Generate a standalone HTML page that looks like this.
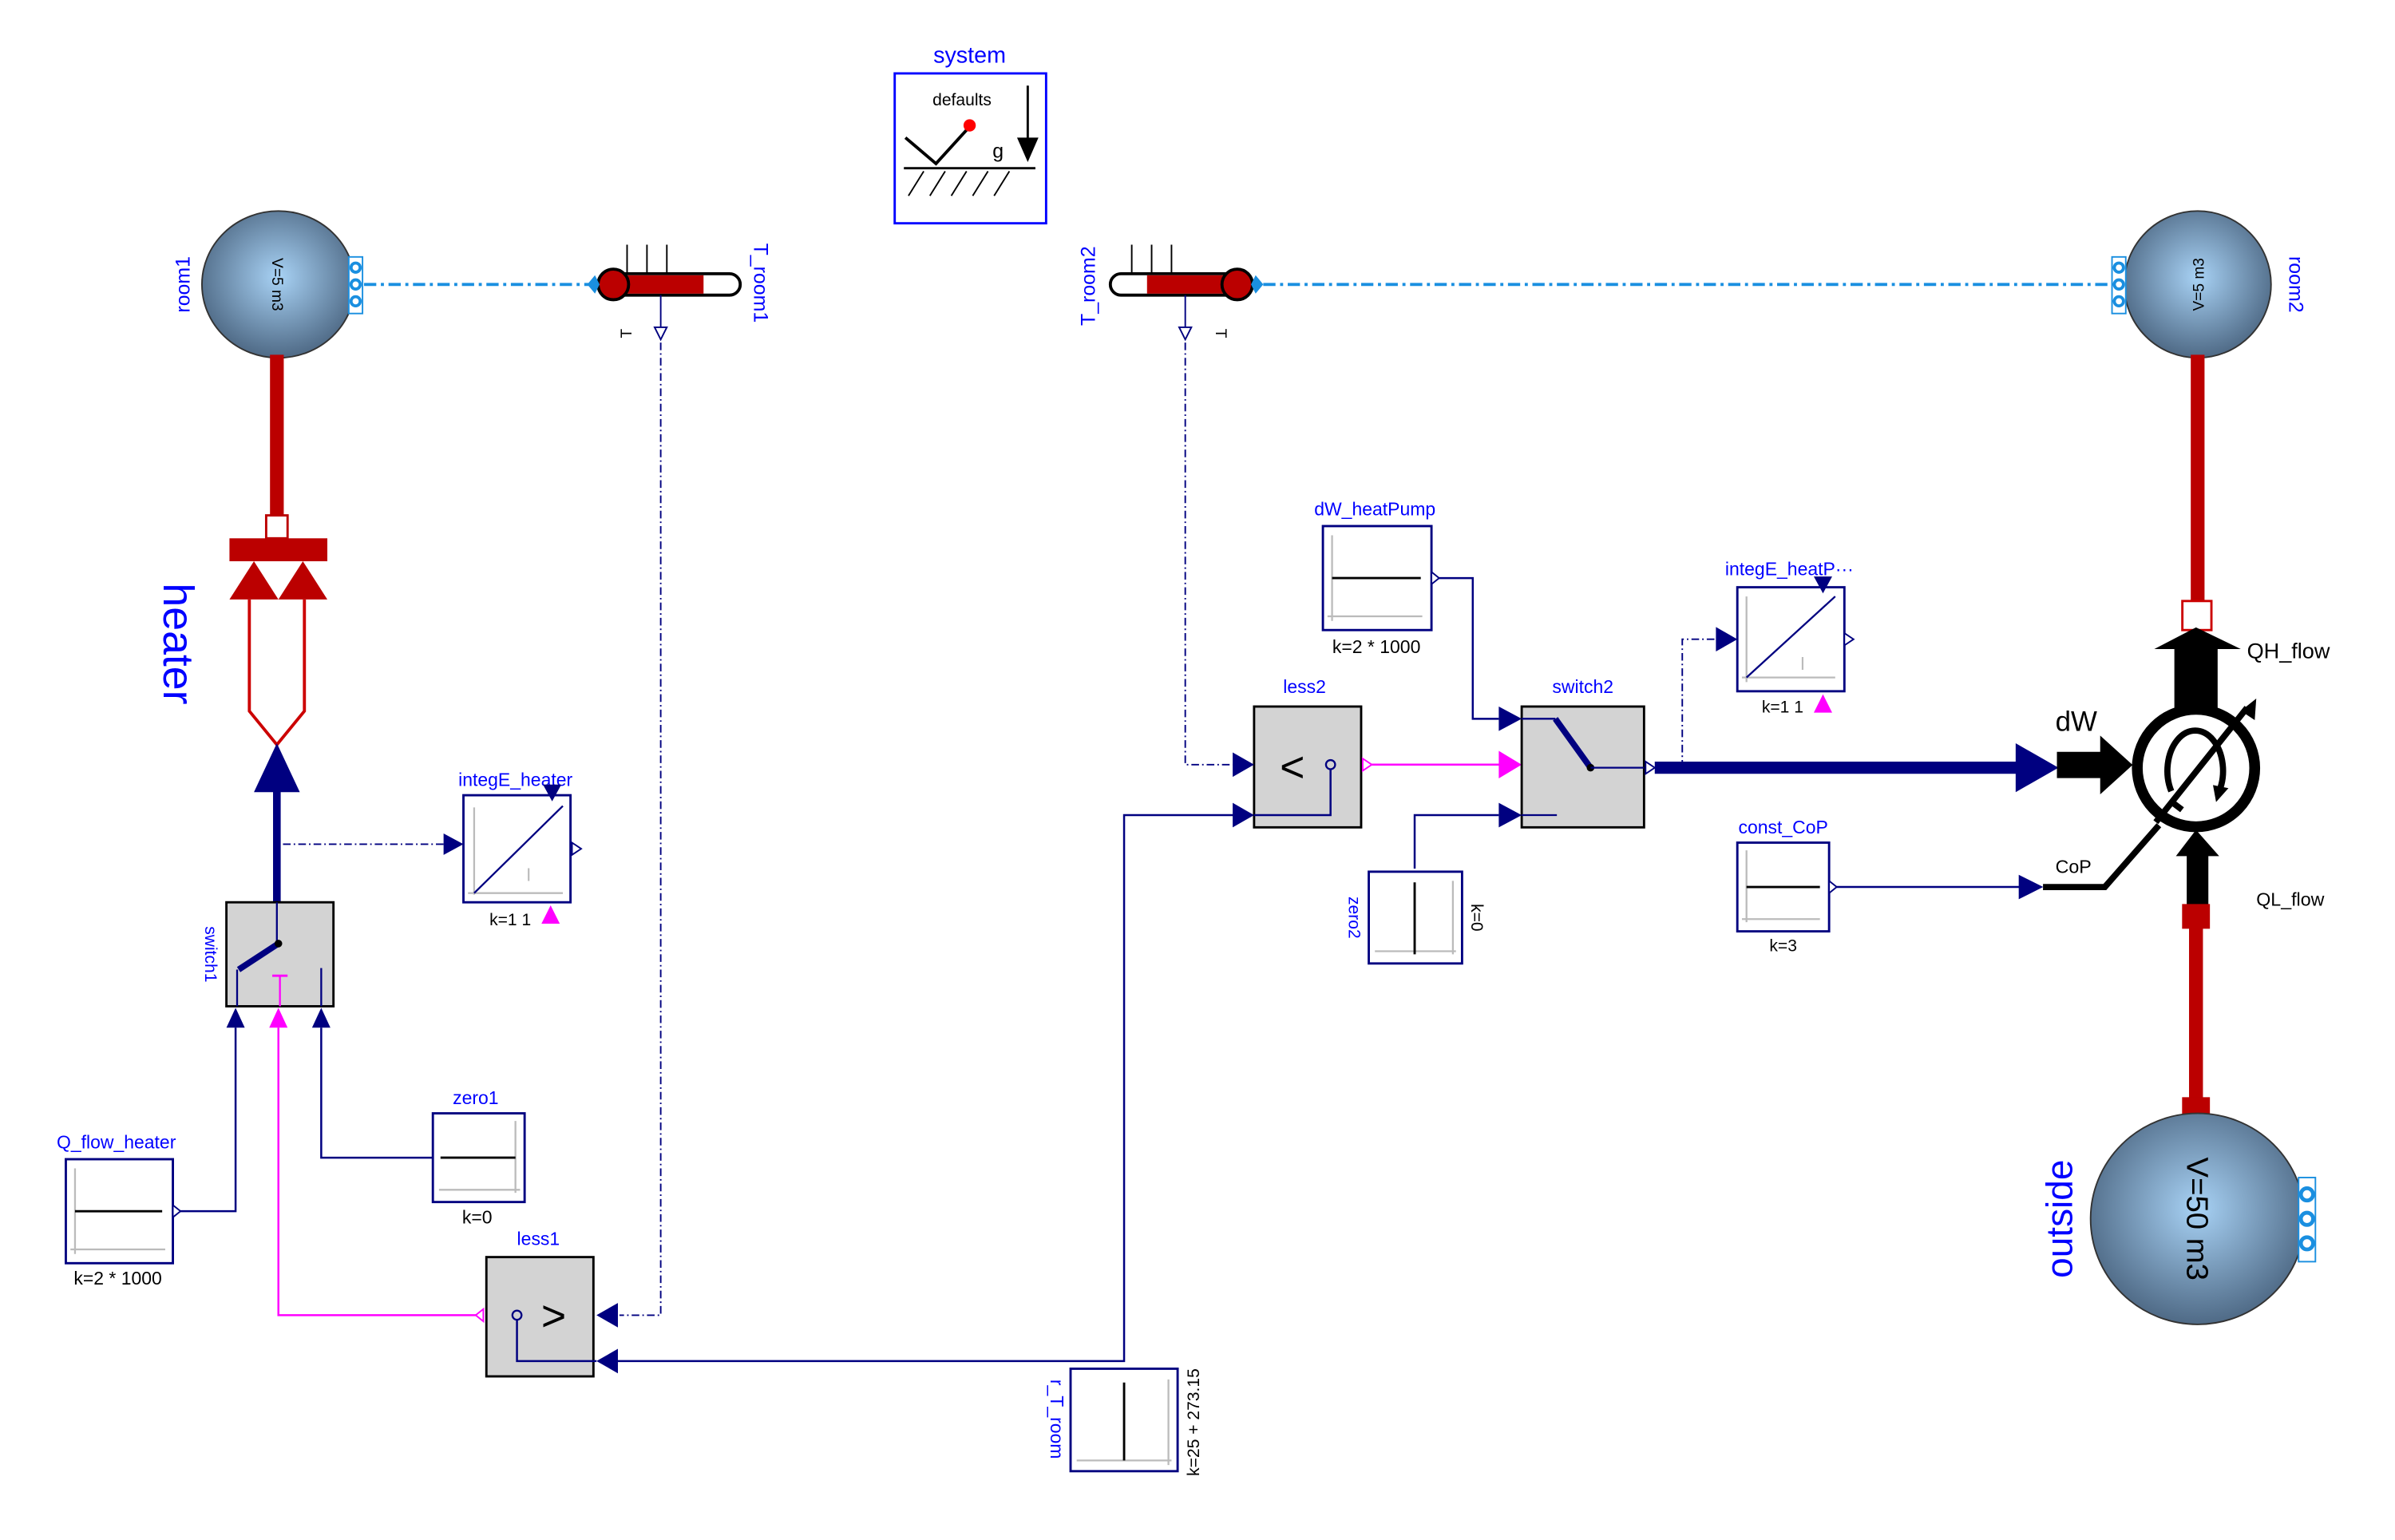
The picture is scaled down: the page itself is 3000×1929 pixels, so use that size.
<!DOCTYPE html>
<html><head><meta charset="utf-8"><style>
html,body{margin:0;padding:0;background:#fff;}
svg{display:block;}
text{font-family:"Liberation Sans",sans-serif;}
</style></head><body>
<svg width="3000" height="1929" viewBox="0 0 1566 1007" xmlns="http://www.w3.org/2000/svg">
<defs>
<radialGradient id="g1" cx="50%" cy="45%" r="55%">
<stop offset="0" stop-color="#a8d2f5"/><stop offset="1" stop-color="#4f6a86"/>
</radialGradient>
</defs>
<rect width="1566" height="1007" fill="#fff"/>

<!-- system -->
<text x="634" y="41" font-size="15" fill="#0000ff" text-anchor="middle">system</text>
<rect x="585" y="48" width="99" height="98" fill="#fff" stroke="#0000ff" stroke-width="1.5"/>
<text x="629" y="69" font-size="11" text-anchor="middle">defaults</text>
<polyline points="592,90 612,107 632,85" fill="none" stroke="#000" stroke-width="2"/>
<circle cx="634" cy="82" r="4" fill="#f00"/>
<line x1="672" y1="56" x2="672" y2="92" stroke="#000" stroke-width="1.5"/>
<polygon points="665,90 679,90 672,106" fill="#000"/>
<text x="649" y="103" font-size="13">g</text>
<line x1="591" y1="110" x2="677" y2="110" stroke="#000" stroke-width="1.5"/>
<g stroke="#000" stroke-width="1"><line x1="604" y1="112" x2="594" y2="128"/><line x1="618" y1="112" x2="608" y2="128"/><line x1="632" y1="112" x2="622" y2="128"/><line x1="646" y1="112" x2="636" y2="128"/><line x1="660" y1="112" x2="650" y2="128"/></g>

<!-- room1 -->
<ellipse cx="182" cy="186" rx="50" ry="48" fill="url(#g1)" stroke="#333" stroke-width="1"/>
<text transform="translate(182,186) rotate(90)" font-size="10" text-anchor="middle" dy="4">V=5 m3</text>
<text transform="translate(124,186) rotate(-90)" font-size="13" fill="#0000ff" text-anchor="middle">room1</text>
<rect x="228" y="168" width="9" height="37" fill="#fff" stroke="#1a8fe0"/>
<g fill="#fff" stroke="#1a8fe0" stroke-width="2"><circle cx="232.5" cy="175" r="3"/><circle cx="232.5" cy="186" r="3"/><circle cx="232.5" cy="197" r="3"/></g>
<line x1="238" y1="186" x2="388" y2="186" stroke="#1a8fe0" stroke-width="2" stroke-dasharray="8,3,2,3"/>

<!-- T_room1 -->
<g stroke="#000" stroke-width="1"><line x1="410" y1="160" x2="410" y2="180"/><line x1="423" y1="160" x2="423" y2="180"/><line x1="436" y1="160" x2="436" y2="180"/></g>
<rect x="400" y="179" width="84" height="14" rx="7" fill="#fff" stroke="#000" stroke-width="2"/>
<rect x="400" y="180" width="60" height="12" fill="#b00"/>
<circle cx="401" cy="186" r="10" fill="#b00" stroke="#000" stroke-width="2"/>
<polygon points="384,186 389,180 392,186 389,192" fill="#1a8fe0"/>
<line x1="432" y1="193" x2="432" y2="214" stroke="#000080"/>
<polygon points="428,214 436,214 432,222" fill="#fff" stroke="#000080"/>
<text transform="translate(410,218) rotate(-90)" font-size="10" text-anchor="middle" dy="3">T</text>
<text transform="translate(493,185) rotate(90)" font-size="13" fill="#0000ff" text-anchor="middle">T_room1</text>
<polyline points="432,224 432,860 405,860" fill="none" stroke="#000080" stroke-width="1" stroke-dasharray="5,2,1,2"/>

<!-- T_room2 -->
<g stroke="#000" stroke-width="1"><line x1="740" y1="160" x2="740" y2="180"/><line x1="753" y1="160" x2="753" y2="180"/><line x1="766" y1="160" x2="766" y2="180"/></g>
<rect x="726" y="179" width="84" height="14" rx="7" fill="#fff" stroke="#000" stroke-width="2"/>
<rect x="750" y="180" width="60" height="12" fill="#b00"/>
<circle cx="809" cy="186" r="10" fill="#b00" stroke="#000" stroke-width="2"/>
<polygon points="826,186 821,180 818,186 821,192" fill="#1a8fe0"/>
<line x1="775" y1="193" x2="775" y2="214" stroke="#000080"/>
<polygon points="771,214 779,214 775,222" fill="#fff" stroke="#000080"/>
<text transform="translate(798,218) rotate(90)" font-size="10" text-anchor="middle" dy="3">T</text>
<text transform="translate(716,187) rotate(-90)" font-size="13" fill="#0000ff" text-anchor="middle">T_room2</text>
<polyline points="775,224 775,500 808,500" fill="none" stroke="#000080" stroke-width="1" stroke-dasharray="5,2,1,2"/>
<line x1="826" y1="186" x2="1380" y2="186" stroke="#1a8fe0" stroke-width="2" stroke-dasharray="8,3,2,3"/>

<!-- room2 -->
<ellipse cx="1437" cy="186" rx="48" ry="48" fill="url(#g1)" stroke="#333" stroke-width="1"/>
<text transform="translate(1437,186) rotate(-90)" font-size="10" text-anchor="middle" dy="4">V=5 m3</text>
<text transform="translate(1497,186) rotate(90)" font-size="13" fill="#0000ff" text-anchor="middle">room2</text>
<rect x="1381" y="168" width="9" height="37" fill="#fff" stroke="#1a8fe0"/>
<g fill="#fff" stroke="#1a8fe0" stroke-width="2"><circle cx="1385.5" cy="175" r="3"/><circle cx="1385.5" cy="186" r="3"/><circle cx="1385.5" cy="197" r="3"/></g>
<line x1="1437" y1="232" x2="1437" y2="395" stroke="#b00" stroke-width="9"/>
<rect x="1427" y="393" width="19" height="19" fill="#fff" stroke="#c00" stroke-width="1.5"/>

<!-- heater -->
<line x1="181" y1="232" x2="181" y2="338" stroke="#b00" stroke-width="9"/>
<rect x="174" y="337" width="14" height="15" fill="#fff" stroke="#b00" stroke-width="1.5"/>
<rect x="150" y="352" width="64" height="15" fill="#b00"/>
<polygon points="150,392 166,367 182,392" fill="#b00"/>
<polygon points="182,392 198,367 214,392" fill="#b00"/>
<polyline points="163,392 163,465 181,487 199,465 199,392" fill="none" stroke="#c00" stroke-width="2"/>
<text transform="translate(107,421) rotate(90)" font-size="28" fill="#0000ff" text-anchor="middle">heater</text>
<polygon points="181,486 166,518 196,518" fill="#000080"/>
<line x1="181" y1="517" x2="181" y2="591" stroke="#000080" stroke-width="5"/>
<polyline points="185,552 290,552" fill="none" stroke="#000080" stroke-dasharray="5,2,1,2"/>
<polygon points="290,545 303,552 290,559" fill="#000080"/>

<!-- integE_heater -->
<text x="337" y="514" font-size="12" fill="#0000ff" text-anchor="middle">integE_heater</text>
<rect x="303" y="520" width="70" height="70" fill="#fff" stroke="#000080" stroke-width="1.5"/>
<g stroke="#bbb" stroke-width="1.2"><line x1="310" y1="585" x2="310" y2="528"/><line x1="306" y1="584" x2="368" y2="584"/></g>
<line x1="310" y1="584" x2="368" y2="527" stroke="#000080" stroke-width="1.2"/>
<text x="344" y="576" font-size="12" fill="#bbb">I</text>
<polygon points="355,513 367,513 361,524" fill="#000080"/>
<polygon points="374,551 380,555 374,559" fill="#fff" stroke="#000080"/>
<text x="320" y="605" font-size="11">k=1 1</text>
<polygon points="354,604 366,604 360,592" fill="#f0f"/>

<!-- switch1 -->
<rect x="148" y="590" width="70" height="68" fill="#d3d3d3" stroke="#000" stroke-width="1.5"/>
<text transform="translate(134,624) rotate(90)" font-size="11" fill="#0000ff" text-anchor="middle">switch1</text>
<line x1="181" y1="590" x2="181" y2="617" stroke="#000080" stroke-width="1.2"/>
<line x1="182" y1="617" x2="156" y2="634" stroke="#000080" stroke-width="4"/>
<circle cx="182" cy="617" r="2.5" fill="#000"/>
<line x1="155" y1="634" x2="155" y2="658" stroke="#000080" stroke-width="1.2"/>
<line x1="178" y1="638" x2="188" y2="638" stroke="#f0f" stroke-width="1.5"/>
<line x1="183" y1="638" x2="183" y2="658" stroke="#f0f" stroke-width="1.2"/>
<line x1="210" y1="633" x2="210" y2="658" stroke="#000080" stroke-width="1.2"/>
<polygon points="148,672 160,672 154,659" fill="#000080"/>
<polygon points="176,672 188,672 182,659" fill="#f0f"/>
<polygon points="204,672 216,672 210,659" fill="#000080"/>
<polyline points="154,672 154,792 117,792" fill="none" stroke="#000080" stroke-width="1.3"/>
<polyline points="210,672 210,757 283,757" fill="none" stroke="#000080" stroke-width="1.3"/>
<polyline points="182,672 182,860 316,860" fill="none" stroke="#f0f" stroke-width="1.3"/>

<!-- Q_flow_heater -->
<text x="76" y="751" font-size="12" fill="#0000ff" text-anchor="middle">Q_flow_heater</text>
<rect x="43" y="758" width="70" height="68" fill="#fff" stroke="#000080" stroke-width="1.5"/>
<g stroke="#bbb" stroke-width="1.2"><line x1="49" y1="820" x2="49" y2="764"/><line x1="46" y1="817" x2="108" y2="817"/></g>
<line x1="49" y1="792" x2="106" y2="792" stroke="#000" stroke-width="1.5"/>
<polygon points="113,788 118,792 113,796" fill="#fff" stroke="#000080"/>
<text x="77" y="840" font-size="12" text-anchor="middle">k=2 * 1000</text>

<!-- zero1 -->
<text x="311" y="722" font-size="12" fill="#0000ff" text-anchor="middle">zero1</text>
<rect x="283" y="728" width="60" height="58" fill="#fff" stroke="#000080" stroke-width="1.5"/>
<g stroke="#bbb" stroke-width="1.2"><line x1="337" y1="780" x2="337" y2="733"/><line x1="340" y1="778" x2="287" y2="778"/></g>
<line x1="288" y1="757" x2="337" y2="757" stroke="#000" stroke-width="1.5"/>
<text x="312" y="800" font-size="12" text-anchor="middle">k=0</text>

<!-- less1 -->
<text x="352" y="814" font-size="12" fill="#0000ff" text-anchor="middle">less1</text>
<rect x="318" y="822" width="70" height="78" fill="#d3d3d3" stroke="#000" stroke-width="1.5"/>
<text x="362" y="870" font-size="28" text-anchor="middle">&gt;</text>
<circle cx="338" cy="860" r="3" fill="none" stroke="#000080" stroke-width="1.2"/>
<polyline points="338,863 338,890 390,890" fill="none" stroke="#000080" stroke-width="1.3"/>
<polygon points="316,856 311,860 316,864" fill="#fff" stroke="#f0f"/>
<polygon points="404,852 390,860 404,868" fill="#000080"/>
<polygon points="404,882 390,890 404,898" fill="#000080"/>
<polyline points="404,890 735,890 735,533 808,533" fill="none" stroke="#000080" stroke-width="1.3"/>

<!-- r_T_room -->
<rect x="700" y="895" width="70" height="67" fill="#fff" stroke="#000080" stroke-width="1.5"/>
<g stroke="#bbb" stroke-width="1.2"><line x1="764" y1="958" x2="764" y2="902"/><line x1="766" y1="955" x2="704" y2="955"/></g>
<line x1="735" y1="904" x2="735" y2="955" stroke="#000" stroke-width="1.5"/>
<text transform="translate(687,928) rotate(90)" font-size="12" fill="#0000ff" text-anchor="middle">r_T_room</text>
<text transform="translate(784,930) rotate(-90)" font-size="11" text-anchor="middle">k=25 + 273.15</text>

<!-- less2 -->
<text x="853" y="453" font-size="12" fill="#0000ff" text-anchor="middle">less2</text>
<rect x="820" y="462" width="70" height="79" fill="#d3d3d3" stroke="#000" stroke-width="1.5"/>
<text x="845" y="511" font-size="28" text-anchor="middle">&lt;</text>
<circle cx="870" cy="500" r="3" fill="none" stroke="#000080" stroke-width="1.2"/>
<polyline points="870,503 870,533 820,533" fill="none" stroke="#000080" stroke-width="1.3"/>
<polygon points="806,492 820,500 806,508" fill="#000080"/>
<polygon points="806,525 820,533 806,541" fill="#000080"/>
<polygon points="891,496 897,500 891,504" fill="#fff" stroke="#f0f"/>
<line x1="897" y1="500" x2="982" y2="500" stroke="#f0f" stroke-width="1.3"/>
<polygon points="980,491 995,500 980,509" fill="#f0f"/>
<line x1="995" y1="500" x2="1017" y2="500" stroke="#f0f" stroke-width="1.3"/>
<line x1="1017" y1="494" x2="1017" y2="506" stroke="#f0f" stroke-width="1.5"/>

<!-- switch2 -->
<text x="1035" y="453" font-size="12" fill="#0000ff" text-anchor="middle">switch2</text>
<rect x="995" y="462" width="80" height="79" fill="#d3d3d3" stroke="#000" stroke-width="1.5"/>
<line x1="995" y1="470" x2="1017" y2="470" stroke="#000080" stroke-width="1.2"/>
<line x1="1017" y1="470" x2="1040" y2="502" stroke="#000080" stroke-width="4"/>
<circle cx="1040" cy="502" r="2.5" fill="#000"/>
<line x1="1040" y1="502" x2="1075" y2="502" stroke="#000080" stroke-width="1.2"/>
<line x1="995" y1="533" x2="1018" y2="533" stroke="#000080" stroke-width="1.2"/>
<polygon points="980,462 995,470 980,478" fill="#000080"/>
<polygon points="980,525 995,533 980,541" fill="#000080"/>
<polygon points="1076,498 1082,502 1076,506" fill="#fff" stroke="#000080"/>
<line x1="1082" y1="502" x2="1322" y2="502" stroke="#000080" stroke-width="8"/>
<polygon points="1318,486 1346,502 1318,518" fill="#000080"/>

<!-- dW_heatPump -->
<text x="899" y="337" font-size="12" fill="#0000ff" text-anchor="middle">dW_heatPump</text>
<rect x="865" y="344" width="71" height="68" fill="#fff" stroke="#000080" stroke-width="1.5"/>
<g stroke="#bbb" stroke-width="1.2"><line x1="871" y1="406" x2="871" y2="350"/><line x1="868" y1="403" x2="930" y2="403"/></g>
<line x1="871" y1="378" x2="929" y2="378" stroke="#000" stroke-width="1.5"/>
<polygon points="936,374 941,378 936,382" fill="#fff" stroke="#000080"/>
<polyline points="941,378 963,378 963,470 980,470" fill="none" stroke="#000080" stroke-width="1.3"/>
<text x="900" y="427" font-size="12" text-anchor="middle">k=2 * 1000</text>

<!-- zero2 -->
<rect x="895" y="570" width="61" height="60" fill="#fff" stroke="#000080" stroke-width="1.5"/>
<g stroke="#bbb" stroke-width="1.2"><line x1="950" y1="624" x2="950" y2="576"/><line x1="952" y1="622" x2="899" y2="622"/></g>
<line x1="925" y1="577" x2="925" y2="624" stroke="#000" stroke-width="1.5"/>
<polyline points="925,568 925,533 980,533" fill="none" stroke="#000080" stroke-width="1.3"/>
<text transform="translate(882,600) rotate(90)" font-size="11" fill="#0000ff" text-anchor="middle">zero2</text>
<text transform="translate(962,600) rotate(90)" font-size="11" text-anchor="middle">k=0</text>

<!-- integE_heatPump -->
<polyline points="1100,502 1100,418 1122,418" fill="none" stroke="#000080" stroke-dasharray="5,2,1,2"/>
<polygon points="1122,410 1136,418 1122,426" fill="#000080"/>
<text x="1170" y="376" font-size="12" fill="#0000ff" text-anchor="middle">integE_heatP···</text>
<rect x="1136" y="384" width="70" height="68" fill="#fff" stroke="#000080" stroke-width="1.5"/>
<g stroke="#bbb" stroke-width="1.2"><line x1="1142" y1="446" x2="1142" y2="390"/><line x1="1139" y1="443" x2="1200" y2="443"/></g>
<line x1="1142" y1="443" x2="1200" y2="390" stroke="#000080" stroke-width="1.2"/>
<text x="1177" y="438" font-size="12" fill="#bbb">I</text>
<polygon points="1186,377 1198,377 1192,388" fill="#000080"/>
<polygon points="1206,414 1212,418 1206,422" fill="#fff" stroke="#000080"/>
<text x="1152" y="466" font-size="11">k=1 1</text>
<polygon points="1186,466 1198,466 1192,454" fill="#f0f"/>

<!-- const_CoP -->
<text x="1166" y="545" font-size="12" fill="#0000ff" text-anchor="middle">const_CoP</text>
<rect x="1136" y="551" width="60" height="58" fill="#fff" stroke="#000080" stroke-width="1.5"/>
<g stroke="#bbb" stroke-width="1.2"><line x1="1142" y1="603" x2="1142" y2="556"/><line x1="1139" y1="601" x2="1190" y2="601"/></g>
<line x1="1142" y1="580" x2="1190" y2="580" stroke="#000" stroke-width="1.5"/>
<polygon points="1196,576 1201,580 1196,584" fill="#fff" stroke="#000080"/>
<line x1="1201" y1="580" x2="1322" y2="580" stroke="#000080" stroke-width="1.3"/>
<polygon points="1320,572 1336,580 1320,588" fill="#000080"/>
<text x="1166" y="622" font-size="11" text-anchor="middle">k=3</text>

<!-- heat pump -->
<g transform="scale(1.0105)">
<line x1="1331" y1="495" x2="1362" y2="495" stroke="#000" stroke-width="17"/>
<polygon points="1359,476 1380,495 1359,514" fill="#000"/>
<polyline points="1322,574 1362,574 1397,534" fill="none" stroke="#000" stroke-width="4"/>
<rect x="1407" y="418" width="28" height="40" fill="#000"/>
<polygon points="1394,420 1421,406 1450,420" fill="#000"/>
<circle cx="1421" cy="497" r="38" fill="#fff" stroke="#000" stroke-width="7"/>
<path d="M1405,512 A18,26 0 1 1 1436,512" fill="none" stroke="#000" stroke-width="4"/>
<polygon points="1432,508 1442,510 1434,519" fill="#000"/>
<line x1="1395" y1="532" x2="1454" y2="458" stroke="#000" stroke-width="4"/>
<line x1="1404" y1="518" x2="1412" y2="524" stroke="#000" stroke-width="4"/>
<polygon points="1450,460 1460,452 1459,466" fill="#000"/>
<polygon points="1408,554 1421,537 1436,554" fill="#000"/>
<rect x="1415" y="553" width="14" height="34" fill="#000"/>
<rect x="1412" y="585" width="18" height="16" fill="#b00"/>
<line x1="1421" y1="600" x2="1421" y2="720" stroke="#b00" stroke-width="9"/>
<rect x="1412" y="710" width="18" height="16" fill="#b00"/>
<text x="1454" y="426" font-size="14">QH_flow</text>
<text x="1330" y="473" font-size="18">dW</text>
<text x="1330" y="565" font-size="12">CoP</text>
<text x="1460" y="586" font-size="12">QL_flow</text>
</g>

<!-- outside -->
<ellipse cx="1437" cy="797" rx="70" ry="69" fill="url(#g1)" stroke="#333" stroke-width="1"/>
<text transform="translate(1437,797) rotate(90)" font-size="20" text-anchor="middle" dy="7">V=50 m3</text>
<text transform="translate(1355,797) rotate(-90)" font-size="24" fill="#0000ff" text-anchor="middle">outside</text>
<rect x="1503" y="770" width="11" height="55" fill="#fff" stroke="#1a8fe0"/>
<g fill="#fff" stroke="#1a8fe0" stroke-width="2.5"><circle cx="1508.5" cy="781" r="4"/><circle cx="1508.5" cy="797" r="4"/><circle cx="1508.5" cy="813" r="4"/></g>
</svg>
</body></html>
